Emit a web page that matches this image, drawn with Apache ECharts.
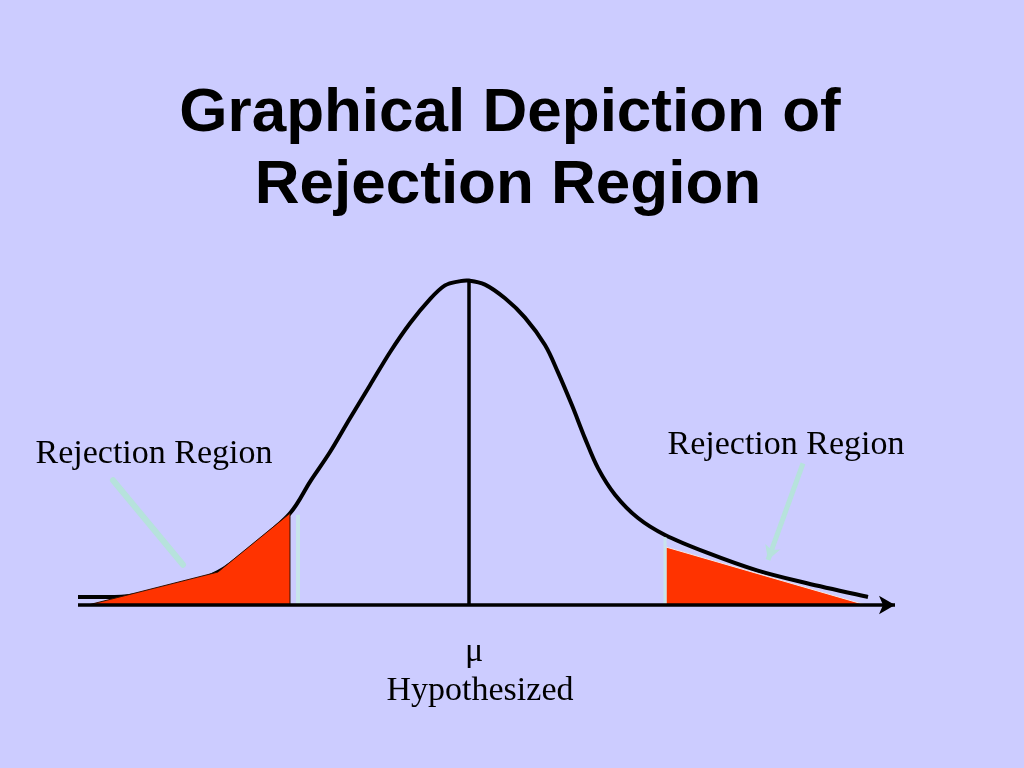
<!DOCTYPE html>
<html>
<head>
<meta charset="utf-8">
<style>
  html, body { margin: 0; padding: 0; background: #CCCCFF; }
  #chart { width: 1024px; height: 768px; }
</style>
<script src="https://cdn.jsdelivr.net/npm/echarts@6/dist/echarts.min.js"></script>
</head>
<body>
<div id="chart"></div>
<script>
// ---- Data (x in "standard units" around the hypothesized mean, y = density height) ----
const curveX = [-3.91, -3.42, -2.94, -2.51, -2.14, -1.79, -1.59, -1.39, -1.19, -0.99, -0.79, -0.59, -0.39, -0.24, -0.10, 0.00, 0.16, 0.36, 0.56, 0.76, 0.89, 1.03, 1.16, 1.29, 1.46, 1.69, 1.96, 2.38, 2.88, 3.38, 3.99];
const curveY = [0.010, 0.011, 0.021, 0.041, 0.075, 0.114, 0.153, 0.190, 0.232, 0.273, 0.314, 0.350, 0.380, 0.397, 0.402, 0.403, 0.398, 0.381, 0.357, 0.323, 0.289, 0.248, 0.207, 0.170, 0.137, 0.108, 0.087, 0.065, 0.043, 0.027, 0.010];

const leftRegionX = [-3.81, -2.51, -1.79, -1.79];
const leftRegionY = [0.000, 0.041, 0.114, 0.000];
const rightRegionX = [1.97, 3.97, 1.97];
const rightRegionY = [0.072, 0.000, 0.000];

const muX = 0;
const muTop = 0.402;
const leftCritX = -1.71, leftCritTop = 0.112;
const rightCritX = 1.96, rightCritTop = 0.084;

const axisStartX = -3.91, axisEndX = 4.26;

const leftArrowX = [-3.56, -2.86], leftArrowY = [0.155, 0.050];
const rightArrowX = [3.34, 2.99], rightArrowY = [0.176, 0.056];

const titleLines = ['Graphical Depiction of', 'Rejection Region'];
const regionLabel = 'Rejection Region';
const muLabel = 'μ';
const hypLabel = 'Hypothesized';

// ---- Build ----
const zip = (xs, ys) => xs.map((x, i) => [x, ys[i]]);

const polygonSeries = (pts, stroke, z) => ({
  type: 'custom',
  z: z,
  silent: true,
  data: [0],
  renderItem: function (params, api) {
    return {
      type: 'polygon',
      shape: { points: pts.map(p => api.coord(p)) },
      style: { fill: '#FF3300', stroke: stroke, lineWidth: 1 }
    };
  }
});

// Smooth curve through the data points (Catmull-Rom rendered as cubic Béziers)
const smoothCurveSeries = (pts, z) => ({
  type: 'custom',
  z: z,
  silent: true,
  data: [0],
  renderItem: function (params, api) {
    const p = pts.map(q => api.coord(q));
    let d = 'M' + p[0][0] + ' ' + p[0][1];
    for (let i = 0; i < p.length - 1; i++) {
      const p0 = p[Math.max(i - 1, 0)], p1 = p[i], p2 = p[i + 1], p3 = p[Math.min(i + 2, p.length - 1)];
      const c1 = [p1[0] + (p2[0] - p0[0]) / 6, p1[1] + (p2[1] - p0[1]) / 6];
      const c2 = [p2[0] - (p3[0] - p1[0]) / 6, p2[1] - (p3[1] - p1[1]) / 6];
      d += ' C' + c1[0] + ' ' + c1[1] + ' ' + c2[0] + ' ' + c2[1] + ' ' + p2[0] + ' ' + p2[1];
    }
    return {
      type: 'path',
      shape: { pathData: d },
      style: { fill: null, stroke: '#000', lineWidth: 4, lineJoin: 'round' }
    };
  }
});

const titleFont = 'bold 62px "Liberation Sans", Arial, sans-serif';
const serifFont = '34px "Liberation Serif", "Times New Roman", serif';

const chart = echarts.init(document.getElementById('chart'));
chart.setOption({
  backgroundColor: '#CCCCFF',
  animation: false,
  grid: { left: 69, right: 55, top: 202.5, bottom: 82.5 },
  xAxis: { type: 'value', min: -4, max: 5, show: false },
  yAxis: { type: 'value', min: -0.1, max: 0.5, show: false },
  graphic: [
    { type: 'text', style: { text: titleLines[0], font: titleFont, fill: '#000', align: 'center', verticalAlign: 'middle' }, position: [510, 114] },
    { type: 'text', style: { text: titleLines[1], font: titleFont, fill: '#000', align: 'center', verticalAlign: 'middle' }, position: [508, 186] },
    { type: 'text', style: { text: regionLabel, font: serifFont, fill: '#000', align: 'center', verticalAlign: 'middle' }, position: [154, 454] },
    { type: 'text', style: { text: regionLabel, font: serifFont, fill: '#000', align: 'center', verticalAlign: 'middle' }, position: [786, 445] },
    { type: 'text', style: { text: muLabel, font: serifFont, fill: '#000', align: 'center', verticalAlign: 'middle' }, position: [474, 652] },
    { type: 'text', style: { text: hypLabel, font: serifFont, fill: '#000', align: 'center', verticalAlign: 'middle' }, position: [480, 691] }
  ],
  series: [
    smoothCurveSeries(zip(curveX, curveY), 2),
    polygonSeries(zip(leftRegionX, leftRegionY), '#331100', 3),
    polygonSeries(zip(rightRegionX, rightRegionY), '#F4E8E8', 3),
    {
      type: 'line', z: 4, silent: true, symbol: 'none',
      data: [[muX, 0], [muX, muTop]],
      lineStyle: { color: '#000', width: 3.5 }
    },
    {
      type: 'line', z: 4, silent: true, symbol: 'none',
      data: [[leftCritX, 0], [leftCritX, leftCritTop]],
      lineStyle: { color: '#C8E4EC', width: 4 }
    },
    {
      type: 'line', z: 4, silent: true, symbol: 'none',
      data: [[rightCritX, 0], [rightCritX, rightCritTop]],
      lineStyle: { color: '#C8E4EC', width: 3 }
    },
    {
      type: 'line', z: 5, silent: true, symbol: 'none',
      data: [],
      markLine: {
        silent: true, animation: false,
        label: { show: false },
        emphasis: { disabled: true },
        data: [
          [
            { coord: [axisStartX, 0], symbol: 'none', lineStyle: { color: '#000', width: 3.5, type: 'solid' } },
            { coord: [axisEndX, 0], symbol: 'arrow', symbolSize: [14, 16] }
          ],
          [
            { coord: [leftArrowX[0], leftArrowY[0]], symbol: 'none', lineStyle: { color: '#B6E2DC', width: 6, type: 'solid', cap: 'round' } },
            { coord: [leftArrowX[1], leftArrowY[1]], symbol: 'none' }
          ],
          [
            { coord: [rightArrowX[0], rightArrowY[0]], symbol: 'none', lineStyle: { color: '#B6E2DC', width: 5, type: 'solid' } },
            { coord: [rightArrowX[1], rightArrowY[1]], symbol: 'arrow', symbolSize: [12, 14] }
          ]
        ]
      }
    }
  ]
});
</script>
</body>
</html>
